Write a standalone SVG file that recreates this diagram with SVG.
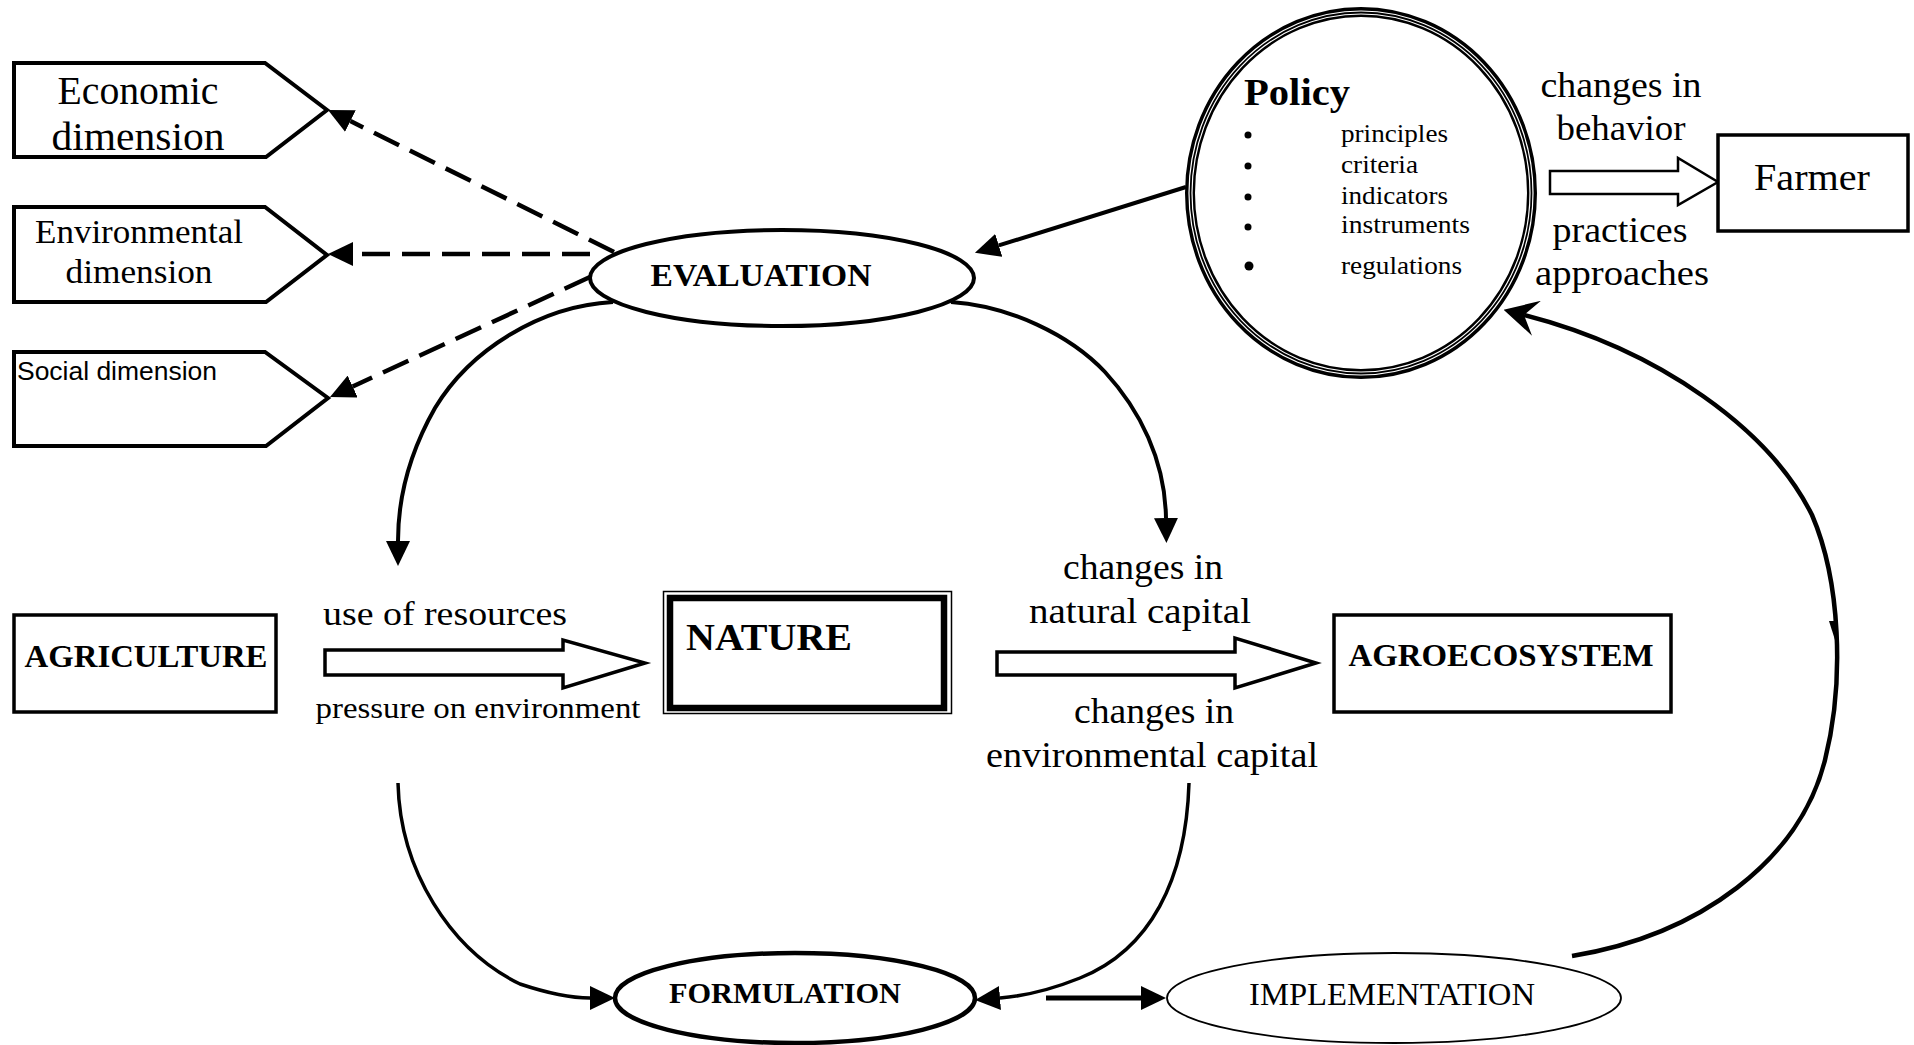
<svg xmlns="http://www.w3.org/2000/svg" width="1914" height="1045" viewBox="0 0 1914 1045">
<defs>
<marker id="tri" viewBox="0 0 10 10" refX="0" refY="5" markerUnits="userSpaceOnUse" markerWidth="25" markerHeight="24" orient="auto" preserveAspectRatio="none"><path d="M0,0 L10,5 L0,10 Z" fill="#000"/></marker>
<marker id="barb" viewBox="0 0 10 10" refX="3.8" refY="5" markerUnits="userSpaceOnUse" markerWidth="34" markerHeight="36" orient="auto" preserveAspectRatio="none"><path d="M0,0 L10,5 L0,10 L3.8,5 Z" fill="#000"/></marker>
</defs>
<style>
.box{fill:#fff;stroke:#000;stroke-width:3.5}
.ser{font-family:"Liberation Serif","Times New Roman",serif;fill:#000}
.sans{font-family:"Liberation Sans",Arial,sans-serif;fill:#000}
.b{font-weight:bold}
.c{text-anchor:middle}
.line{fill:none;stroke:#000;stroke-width:4}
.dash{fill:none;stroke:#000;stroke-width:4.5;stroke-dasharray:28 12}
.hollow{fill:#fff;stroke:#000;stroke-width:3.5;stroke-linejoin:miter}
</style>
<rect x="0" y="0" width="1914" height="1045" fill="#fff"/>

<g id="connectors">
  <path class="dash" d="M614,252 L350.4,121.1" marker-end="url(#tri)"/>
  <path class="dash" d="M590,254 L353,254" marker-end="url(#tri)"/>
  <path class="dash" d="M590,277 L352.7,386.5" marker-end="url(#tri)"/>
  <path class="line" d="M1186,187 L998.8,245.4" marker-end="url(#tri)"/>
  <path class="line" d="M613,302 C540,306 470,350 435,408 C410,452 398,495 398,541" marker-end="url(#tri)"/>
  <path class="line" d="M951,302 C1010,306 1070,335 1105,372 C1140,410 1165,460 1166,518" marker-end="url(#tri)"/>
  <path class="line" style="stroke-width:3.5" d="M398,783 C400,870 450,950 520,984 C550,994 570,998 590,998" marker-end="url(#tri)"/>
  <path class="line" style="stroke-width:3.5" d="M1189,783 C1186,880 1150,950 1080,978 C1050,990 1025,996 1000,998" marker-end="url(#tri)"/>
  <path class="line" style="stroke-width:5" d="M1046,998 L1141,998" marker-end="url(#tri)"/>
  <path class="line" style="stroke-width:4.5" d="M1572,956 C1700,935 1800,860 1825,760 C1845,680 1840,580 1812,515 C1770,430 1660,350 1524,315" marker-end="url(#barb)"/>
  <path d="M1829,621 L1837,621 L1835,640 Z" fill="#000"/>
  <polygon class="hollow" points="325,650 563,650 563,640 645,663 563,688 563,675 325,675"/>
  <polygon class="hollow" points="997,652 1235,652 1235,638 1316,663 1235,688 1235,675 997,675"/>
  <polygon class="hollow" style="stroke-width:2.5" points="1550,171 1678,171 1678,158 1718,182 1678,205 1678,194 1550,194"/>
</g>

<g id="labels">
  <text class="ser c" x="1621" y="97" font-size="36" textLength="161" lengthAdjust="spacingAndGlyphs">changes in</text>
  <text class="ser c" x="1621" y="140" font-size="36" textLength="129" lengthAdjust="spacingAndGlyphs">behavior</text>
  <text class="ser c" x="1620" y="242" font-size="36" textLength="135" lengthAdjust="spacingAndGlyphs">practices</text>
  <text class="ser c" x="1622" y="285" font-size="36" textLength="174" lengthAdjust="spacingAndGlyphs">approaches</text>
  <text class="ser c" x="445" y="625" font-size="34" textLength="244" lengthAdjust="spacingAndGlyphs">use of resources</text>
  <text class="ser c" x="478" y="718" font-size="30" textLength="325" lengthAdjust="spacingAndGlyphs">pressure on environment</text>
  <text class="ser c" x="1143" y="579" font-size="35" textLength="160" lengthAdjust="spacingAndGlyphs">changes in</text>
  <text class="ser c" x="1140" y="623" font-size="35" textLength="222" lengthAdjust="spacingAndGlyphs">natural capital</text>
  <text class="ser c" x="1154" y="723" font-size="35" textLength="160" lengthAdjust="spacingAndGlyphs">changes in</text>
  <text class="ser c" x="1152" y="767" font-size="35" textLength="332" lengthAdjust="spacingAndGlyphs">environmental capital</text>
</g>

<g id="economic">
  <path class="box" style="stroke-width:4" d="M14,63 L265,63 L327,110 L266,157 L14,157 Z"/>
  <text class="ser c" x="138" y="104" font-size="39" textLength="161" lengthAdjust="spacingAndGlyphs">Economic</text>
  <text class="ser c" x="138" y="150" font-size="40" textLength="173" lengthAdjust="spacingAndGlyphs">dimension</text>
</g>
<g id="environmental">
  <path class="box" style="stroke-width:4" d="M14,207 L265,207 L327,255 L266,302 L14,302 Z"/>
  <text class="ser c" x="139" y="243" font-size="34" textLength="208" lengthAdjust="spacingAndGlyphs">Environmental</text>
  <text class="ser c" x="139" y="283" font-size="34" textLength="147" lengthAdjust="spacingAndGlyphs">dimension</text>
</g>
<g id="social">
  <path class="box" style="stroke-width:4" d="M14,352 L265,352 L328,398 L266,446 L14,446 Z"/>
  <text class="sans" x="17" y="380" font-size="25" textLength="200" lengthAdjust="spacingAndGlyphs">Social dimension</text>
</g>

<g id="evaluation">
  <ellipse cx="782" cy="278" rx="192" ry="48" fill="#fff" stroke="#000" stroke-width="4"/>
  <text class="ser b c" x="761" y="286" font-size="32" textLength="221" lengthAdjust="spacingAndGlyphs">EVALUATION</text>
</g>

<g id="policy">
  <ellipse cx="1361" cy="193" rx="171" ry="181" fill="#fff" stroke="#000" stroke-width="10"/>
  <ellipse cx="1361" cy="193" rx="172" ry="182" fill="none" stroke="#fff" stroke-width="1.2"/>
  <ellipse cx="1361" cy="193" rx="169" ry="179" fill="none" stroke="#fff" stroke-width="1.2"/>
  <text class="ser b" x="1244" y="105" font-size="38" textLength="106" lengthAdjust="spacingAndGlyphs">Policy</text>
  <circle cx="1248" cy="135" r="3.5"/>
  <circle cx="1248" cy="166" r="3.5"/>
  <circle cx="1248" cy="197" r="3.5"/>
  <circle cx="1248" cy="227" r="3.5"/>
  <circle cx="1249" cy="266" r="4.5"/>
  <text class="ser" x="1341" y="142" font-size="25" textLength="107" lengthAdjust="spacingAndGlyphs">principles</text>
  <text class="ser" x="1341" y="173" font-size="25" textLength="77" lengthAdjust="spacingAndGlyphs">criteria</text>
  <text class="ser" x="1341" y="204" font-size="25" textLength="107" lengthAdjust="spacingAndGlyphs">indicators</text>
  <text class="ser" x="1341" y="233" font-size="25" textLength="129" lengthAdjust="spacingAndGlyphs">instruments</text>
  <text class="ser" x="1341" y="274" font-size="25" textLength="121" lengthAdjust="spacingAndGlyphs">regulations</text>
</g>

<g id="farmer">
  <rect class="box" x="1718" y="135" width="190" height="96"/>
  <text class="ser c" x="1812" y="190" font-size="37" textLength="116" lengthAdjust="spacingAndGlyphs">Farmer</text>
</g>

<g id="agriculture">
  <rect class="box" x="14" y="615" width="262" height="97"/>
  <text class="ser b c" x="146" y="667" font-size="32" textLength="243" lengthAdjust="spacingAndGlyphs">AGRICULTURE</text>
</g>

<g id="nature">
  <rect x="663.5" y="591.5" width="288" height="122" fill="#fff" stroke="#000" stroke-width="1.5"/>
  <rect x="670" y="598" width="274" height="110" fill="#fff" stroke="#000" stroke-width="6.5"/>
  <text class="ser b" x="686" y="650" font-size="37" textLength="166" lengthAdjust="spacingAndGlyphs">NATURE</text>
</g>

<g id="agroecosystem">
  <rect class="box" x="1334" y="615" width="337" height="97"/>
  <text class="ser b c" x="1501" y="666" font-size="32" textLength="305" lengthAdjust="spacingAndGlyphs">AGROECOSYSTEM</text>
</g>

<g id="formulation">
  <ellipse cx="795" cy="998" rx="180" ry="45" fill="#fff" stroke="#000" stroke-width="4.5"/>
  <text class="ser b c" x="785" y="1003" font-size="30" textLength="232" lengthAdjust="spacingAndGlyphs">FORMULATION</text>
</g>

<g id="implementation">
  <ellipse cx="1394" cy="998" rx="227" ry="45" fill="#fff" stroke="#000" stroke-width="1.8"/>
  <text class="ser c" x="1392" y="1005" font-size="31" textLength="286" lengthAdjust="spacingAndGlyphs">IMPLEMENTATION</text>
</g>
</svg>
